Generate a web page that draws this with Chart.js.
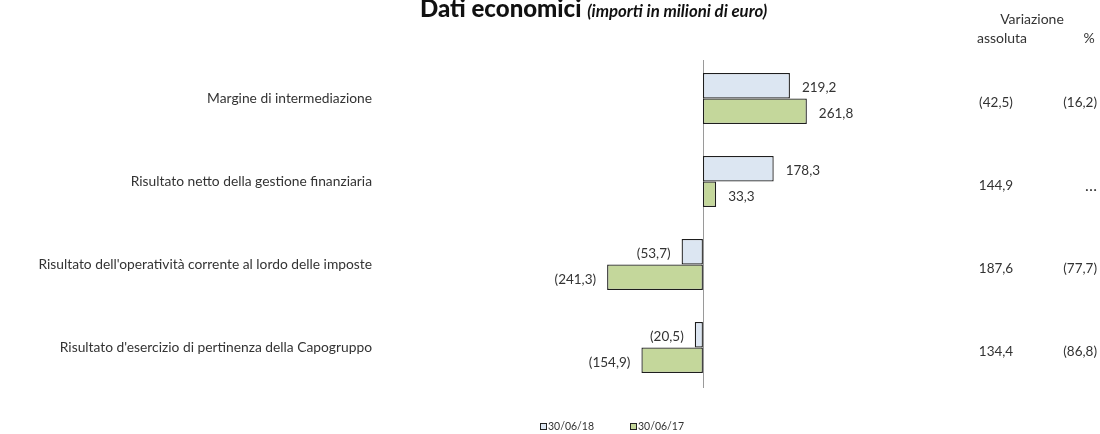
<!DOCTYPE html>
<html>
<head>
<meta charset="utf-8">
<script src="https://cdn.jsdelivr.net/npm/chart.js@4"></script>
<style>
  html, body { margin: 0; padding: 0; background: #fff; }
  #wrap { width: 1100px; height: 434px; }
</style>
</head>
<body>
<div id="wrap"><canvas id="datiChart" width="1100" height="434"></canvas></div>
<script>
const categories = [
    'Margine di intermediazione',
    'Risultato netto della gestione finanziaria',
    "Risultato dell'operatività corrente al lordo delle imposte",
    "Risultato d'esercizio di pertinenza della Capogruppo"
];
const labels2018 = '30/06/18';
const labels2017 = '30/06/17';
const values2018 = [219.2, 178.3, -53.7, -20.5];
const values2017 = [261.8, 33.3, -241.3, -154.9];
const varAssoluta = [-42.5, 144.9, 187.6, 134.4];
const varPercent = [-16.2, null, -77.7, -86.8];

const FONT = 'Lato, "Open Sans", sans-serif';
const TEXT = '#333333';

const fmt = (v) => {
    if (v === null || v === undefined) return '…';
    const s = Math.abs(v).toFixed(1).replace('.', ',');
    return v < 0 ? '(' + s + ')' : s;
};

// zero line, value labels, title, variation columns and legend
const extras = {
    id: 'extras',
    beforeDatasetsDraw(chart) {
        const { ctx, chartArea, scales } = chart;
        const x0 = scales.x.getPixelForValue(0);
        ctx.save();
        ctx.strokeStyle = '#9a9a9a';
        ctx.lineWidth = 1;
        ctx.beginPath();
        ctx.moveTo(Math.round(x0) + 0.5, chartArea.top + 3);
        ctx.lineTo(Math.round(x0) + 0.5, chartArea.bottom - 1);
        ctx.stroke();
        ctx.restore();
    },
    afterDatasetsDraw(chart) {
        const { ctx, scales } = chart;
        ctx.save();
        ctx.fillStyle = TEXT;
        ctx.font = '13.5px ' + FONT;
        ctx.textBaseline = 'middle';
        chart.data.datasets.forEach((ds, di) => {
            const meta = chart.getDatasetMeta(di);
            meta.data.forEach((bar, i) => {
                const v = ds.data[i];
                if (v >= 0) {
                    ctx.textAlign = 'left';
                    ctx.fillText(fmt(v), bar.x + 12, bar.y + 2);
                } else {
                    ctx.textAlign = 'right';
                    ctx.fillText(fmt(v), bar.x - 11, bar.y + 2);
                }
            });
        });

        // variation columns
        categories.forEach((c, i) => {
            const y = scales.y.getPixelForValue(i) + 4;
            ctx.textAlign = 'center';
            ctx.fillText(fmt(varAssoluta[i]), 996, y);
            ctx.textAlign = 'right';
            if (varPercent[i] === null) {
                ctx.font = '16px ' + FONT;
                ctx.fillText(fmt(varPercent[i]), 1097, y);
                ctx.font = '13.5px ' + FONT;
            } else {
                ctx.fillText(fmt(varPercent[i]), 1097, y);
            }
        });
        ctx.font = '14px ' + FONT;
        ctx.textAlign = 'center';
        ctx.fillText('Variazione', 1032, 19);
        ctx.fillText('assoluta', 1002, 38);
        ctx.fillText('%', 1089, 38);

        // title
        ctx.textBaseline = 'alphabetic';
        ctx.textAlign = 'left';
        ctx.fillStyle = '#111';
        ctx.font = '900 24px ' + FONT;
        const t1 = 'Dati economici ';
        ctx.fillText(t1, 420, 17);
        const w1 = ctx.measureText(t1).width;
        ctx.font = 'italic bold 16.8px ' + FONT;
        ctx.fillText('(importi in milioni di euro)', 420 + w1, 17);

        // legend
        const items = [
            { text: labels2018, ds: chart.data.datasets[0], x: 540 },
            { text: labels2017, ds: chart.data.datasets[1], x: 630 }
        ];
        ctx.font = '10.5px ' + FONT;
        ctx.textBaseline = 'middle';
        items.forEach(it => {
            ctx.fillStyle = it.ds.backgroundColor;
            ctx.fillRect(it.x, 423, 6, 6);
            ctx.strokeStyle = '#222';
            ctx.lineWidth = 1;
            ctx.strokeRect(it.x + 0.5, 423.5, 6, 6);
            ctx.fillStyle = TEXT;
            ctx.fillText(it.text, it.x + 8, 426.5);
        });
        ctx.restore();
    }
};

new Chart(document.getElementById('datiChart'), {
    type: 'bar',
    data: {
        labels: categories,
        datasets: [{
            label: labels2018,
            data: values2018,
            backgroundColor: '#dce6f2',
            borderColor: '#1e1e1e',
            borderWidth: 1.3,
            borderSkipped: false,
            barPercentage: 1.0,
            categoryPercentage: 0.615
        }, {
            label: labels2017,
            data: values2017,
            backgroundColor: '#c4d79b',
            borderColor: '#1e1e1e',
            borderWidth: 1.3,
            borderSkipped: false,
            barPercentage: 1.0,
            categoryPercentage: 0.615
        }]
    },
    options: {
        indexAxis: 'y',
        responsive: false,
        animation: false,
        layout: {
            padding: { top: 57, bottom: 45, left: 0, right: 170 }
        },
        scales: {
            x: {
                display: false,
                min: -763,
                max: 572
            },
            y: {
                grid: { display: false },
                border: { display: false },
                ticks: {
                    padding: 20,
                    color: TEXT,
                    font: { family: FONT, size: 13.8 }
                },
                afterFit(scale) {
                    scale.width = 400;
                }
            }
        },
        plugins: {
            legend: { display: false },
            tooltip: { enabled: false }
        }
    },
    plugins: [extras]
});
</script>
</body>
</html>
